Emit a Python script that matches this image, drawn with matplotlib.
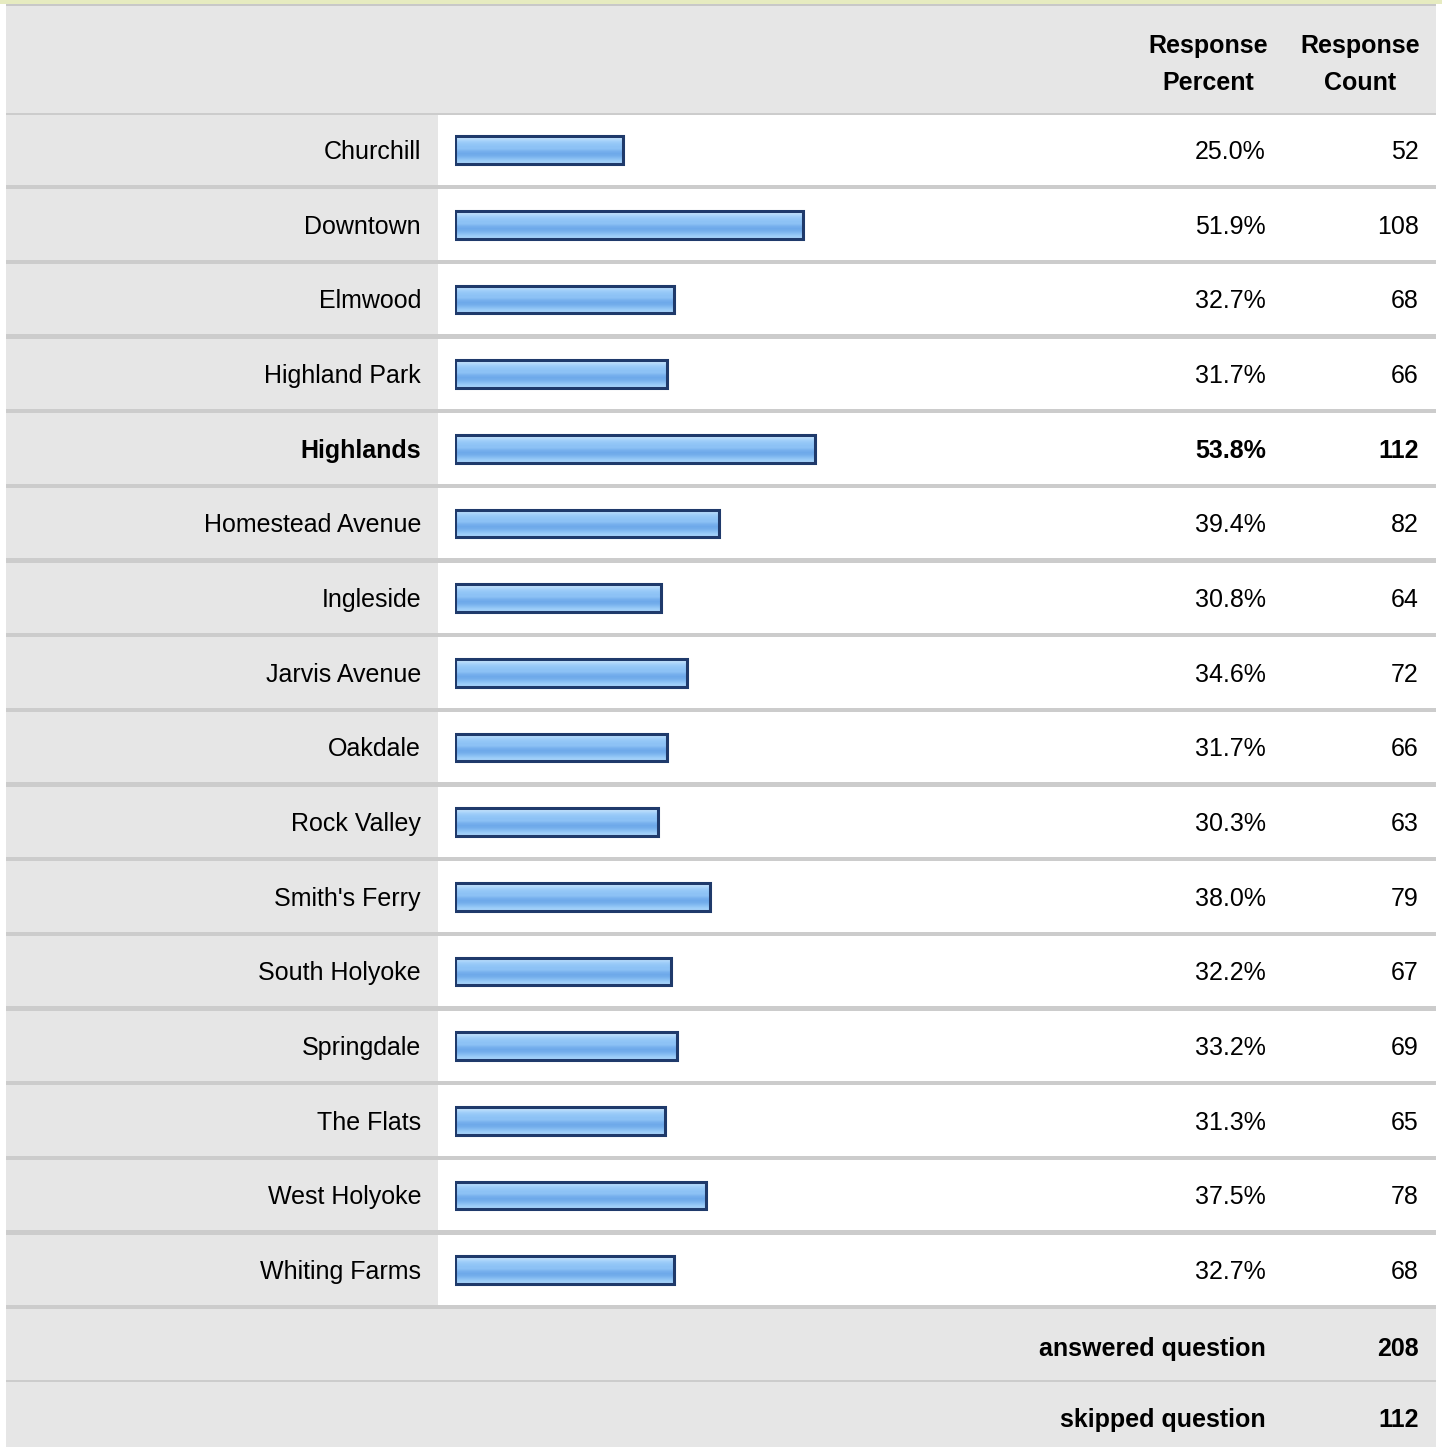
import matplotlib
matplotlib.use("Agg")
import matplotlib.pyplot as plt
import numpy as np
from matplotlib.patches import Rectangle

plt.rcParams['font.family'] = ['Liberation Sans', 'DejaVu Sans']

# survey data
neighborhoods = ["Churchill", "Downtown", "Elmwood", "Highland Park", "Highlands",
                 "Homestead Avenue", "Ingleside", "Jarvis Avenue", "Oakdale", "Rock Valley",
                 "Smith's Ferry", "South Holyoke", "Springdale", "The Flats",
                 "West Holyoke", "Whiting Farms"]
percents = [25.0, 51.9, 32.7, 31.7, 53.8, 39.4, 30.8, 34.6, 31.7, 30.3,
            38.0, 32.2, 33.2, 31.3, 37.5, 32.7]
counts = [52, 108, 68, 66, 112, 82, 64, 72, 66, 63, 79, 67, 69, 65, 78, 68]
highlight = "Highlands"
answered = 208
skipped = 112

W, H = 1442, 1447
fig = plt.figure(figsize=(W / 100, H / 100), dpi=100)

# background table, pixel coords
bg = fig.add_axes([0, 0, 1, 1])
bg.set_xlim(0, W)
bg.set_ylim(H, 0)
bg.axis('off')

GRAY = '#e6e6e6'
LINE = '#cccccc'
n = len(neighborhoods)
top0 = 112.7
pitch = (1270 - 150) / (n - 1)
rows_bottom = top0 + pitch * n

bg.add_patch(Rectangle((0, 0), W, 3.5, color='#e6ebc0', lw=0))
bg.add_patch(Rectangle((6, 3.5), 1430, 2, color='#c8c8c8', lw=0))
bg.add_patch(Rectangle((6, 5.5), 1430, top0 - 5.5, color=GRAY, lw=0))
bg.add_patch(Rectangle((6, top0), 432, rows_bottom - top0, color=GRAY, lw=0))
bg.add_patch(Rectangle((6, rows_bottom), 1430, H - rows_bottom, color=GRAY, lw=0))
bg.add_patch(Rectangle((6, top0), 1430, 2, color=LINE, lw=0))
for i in range(1, n + 1):
    y = top0 + pitch * i
    bg.add_patch(Rectangle((6, y - 2.5), 1430, 4.5, color=LINE, lw=0))
bg.add_patch(Rectangle((6, 1379.5), 1430, 2, color=LINE, lw=0))

fs = 18
dy = 2
bg.text(1208, 44 + dy, "Response", ha='center', va='center', fontsize=fs, fontweight='bold')
bg.text(1208, 81 + dy, "Percent", ha='center', va='center', fontsize=fs, fontweight='bold')
bg.text(1360, 44 + dy, "Response", ha='center', va='center', fontsize=fs, fontweight='bold')
bg.text(1360, 81 + dy, "Count", ha='center', va='center', fontsize=fs, fontweight='bold')

for i, (name, p, c) in enumerate(zip(neighborhoods, percents, counts)):
    y = top0 + pitch * (i + 0.5) + dy
    fw = 'bold' if name == highlight else 'normal'
    bg.text(421, y, name, ha='right', va='center', fontsize=fs, fontweight=fw)
    bg.text(1266, y, f"{p:.1f}%", ha='right', va='center', fontsize=fs, fontweight=fw)
    bg.text(1419, y, str(c), ha='right', va='center', fontsize=fs, fontweight=fw)

bg.text(1266, 1347 + dy, "answered question", ha='right', va='center', fontsize=fs, fontweight='bold')
bg.text(1419, 1347 + dy, str(answered), ha='right', va='center', fontsize=fs, fontweight='bold')
bg.text(1266, 1418 + dy, "skipped question", ha='right', va='center', fontsize=fs, fontweight='bold')
bg.text(1419, 1418 + dy, str(skipped), ha='right', va='center', fontsize=fs, fontweight='bold')

# bar axes: x in percent, y in row index
x0, span = 455, 670
ax = fig.add_axes([x0 / W, 1 - rows_bottom / H, span / W, (rows_bottom - top0) / H])
ax.set_xlim(0, 100)
ax.set_ylim(n - 0.5, -0.5)
ax.axis('off')

grad = ['#cde8fd', '#b4dafb', '#9fcef9', '#93c7f7', '#8ec3f6', '#8cc1f5',
        '#78b1ee', '#6ea9ea', '#74aeec', '#86bcf2', '#98caf7', '#a8d4fa']
grad_rgb = np.array([matplotlib.colors.to_rgb(c) for c in grad])[:, None, :]
bh = 0.37
ys = np.arange(n)
for y, p in zip(ys, percents):
    ax.imshow(grad_rgb, extent=[0, p, y + bh / 2, y - bh / 2], aspect='auto',
              interpolation='bilinear', zorder=2)
ax.barh(ys, percents, height=bh, left=0, fill=False, edgecolor='#1f3a6b',
        linewidth=2.2, zorder=3)
ax.set_xlim(0, 100)
ax.set_ylim(n - 0.5, -0.5)

fig.savefig("out.png", dpi=100)
